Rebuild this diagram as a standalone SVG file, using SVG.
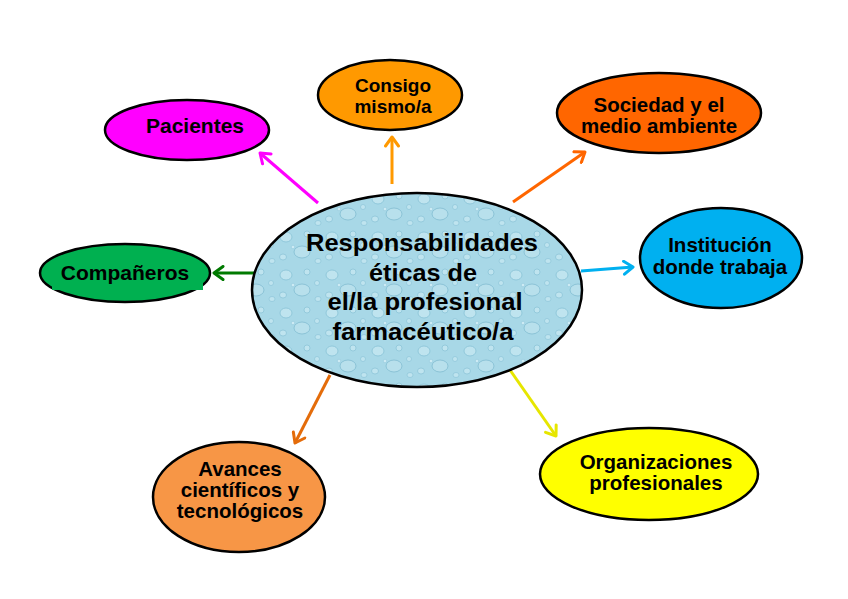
<svg xmlns="http://www.w3.org/2000/svg" width="848" height="599" viewBox="0 0 848 599">
<style>
  .node ellipse { stroke: #000; stroke-width: 2.5; }
  .lbl { font-family: "Liberation Sans", Arial, sans-serif; font-weight: bold; font-size: 20.5px; fill: #000; text-anchor: middle; }
  .big { font-size: 24px; }
  .con line { stroke-width: 3; fill: none; }
</style>
<defs>
  <pattern id="drops" width="46" height="38" patternUnits="userSpaceOnUse">
    <rect width="46" height="38" fill="#A8D8E7"/>
    <ellipse cx="10" cy="9" rx="6" ry="5" fill="#BFE4EF" stroke="#86C1D6" stroke-width="0.8"/>
    <ellipse cx="31" cy="6" rx="3" ry="3" fill="#BFE4EF" stroke="#86C1D6" stroke-width="0.7"/>
    <ellipse cx="26" cy="24" rx="8" ry="6" fill="#B8E0EC" stroke="#80BBD1" stroke-width="0.8"/>
    <ellipse cx="7" cy="29" rx="3.5" ry="3" fill="#BFE4EF" stroke="#86C1D6" stroke-width="0.7"/>
    <ellipse cx="41" cy="17" rx="2.5" ry="2.5" fill="#BFE4EF" stroke="#86C1D6" stroke-width="0.6"/>
    <ellipse cx="42" cy="33" rx="3" ry="2.5" fill="#BFE4EF" stroke="#86C1D6" stroke-width="0.6"/>
    <ellipse cx="17" cy="19" rx="1.8" ry="1.8" fill="#CDEBF4" stroke="#8CC5D9" stroke-width="0.5"/>
  </pattern>
  <marker id="mMag" viewBox="-12 -8 14 16" refX="0" refY="0" markerWidth="14" markerHeight="16" markerUnits="userSpaceOnUse" orient="auto"><path d="M-9,-6.5 L0,0 L-9,6.5" fill="none" stroke="#FF00FF" stroke-width="3" stroke-linecap="round" stroke-linejoin="round"/></marker>
  <marker id="mOrg" viewBox="-12 -8 14 16" refX="0" refY="0" markerWidth="14" markerHeight="16" markerUnits="userSpaceOnUse" orient="auto"><path d="M-9,-6.5 L0,0 L-9,6.5" fill="none" stroke="#FF9900" stroke-width="3" stroke-linecap="round" stroke-linejoin="round"/></marker>
  <marker id="mRed" viewBox="-12 -8 14 16" refX="0" refY="0" markerWidth="14" markerHeight="16" markerUnits="userSpaceOnUse" orient="auto"><path d="M-9,-6.5 L0,0 L-9,6.5" fill="none" stroke="#FF6600" stroke-width="3" stroke-linecap="round" stroke-linejoin="round"/></marker>
  <marker id="mCya" viewBox="-12 -8 14 16" refX="0" refY="0" markerWidth="14" markerHeight="16" markerUnits="userSpaceOnUse" orient="auto"><path d="M-9,-6.5 L0,0 L-9,6.5" fill="none" stroke="#00B0F0" stroke-width="3" stroke-linecap="round" stroke-linejoin="round"/></marker>
  <marker id="mGrn" viewBox="-12 -8 14 16" refX="0" refY="0" markerWidth="14" markerHeight="16" markerUnits="userSpaceOnUse" orient="auto"><path d="M-9,-6.5 L0,0 L-9,6.5" fill="none" stroke="#007A00" stroke-width="3" stroke-linecap="round" stroke-linejoin="round"/></marker>
  <marker id="mDor" viewBox="-12 -8 14 16" refX="0" refY="0" markerWidth="14" markerHeight="16" markerUnits="userSpaceOnUse" orient="auto"><path d="M-9,-6.5 L0,0 L-9,6.5" fill="none" stroke="#E46C0A" stroke-width="3" stroke-linecap="round" stroke-linejoin="round"/></marker>
  <marker id="mYel" viewBox="-12 -8 14 16" refX="0" refY="0" markerWidth="14" markerHeight="16" markerUnits="userSpaceOnUse" orient="auto"><path d="M-9,-6.5 L0,0 L-9,6.5" fill="none" stroke="#E6E600" stroke-width="3" stroke-linecap="round" stroke-linejoin="round"/></marker>
</defs>
<rect width="848" height="599" fill="#FFFFFF"/>

<g id="connectors" class="con">
  <line x1="318" y1="203" x2="260" y2="153" stroke="#FF00FF" marker-end="url(#mMag)"/>
  <line x1="392" y1="184" x2="392" y2="137" stroke="#FF9900" marker-end="url(#mOrg)"/>
  <line x1="513" y1="202" x2="585" y2="152" stroke="#FF6600" marker-end="url(#mRed)"/>
  <line x1="581" y1="271" x2="633" y2="267" stroke="#00B0F0" marker-end="url(#mCya)"/>
  <line x1="254" y1="273" x2="214" y2="273" stroke="#007A00" marker-end="url(#mGrn)"/>
  <line x1="330" y1="375" x2="295" y2="443" stroke="#E46C0A" marker-end="url(#mDor)"/>
  <line x1="510" y1="370" x2="556" y2="436" stroke="#E6E600" marker-end="url(#mYel)"/>
</g>

<g id="center" class="node">
  <ellipse cx="417" cy="290" rx="165" ry="97" fill="url(#drops)"/>
  <text class="lbl big" x="422" y="251" textLength="232" lengthAdjust="spacingAndGlyphs">Responsabilidades</text>
  <text class="lbl big" x="423" y="281" textLength="108" lengthAdjust="spacingAndGlyphs">éticas de</text>
  <text class="lbl big" x="425" y="310" textLength="195" lengthAdjust="spacingAndGlyphs">el/la profesional</text>
  <text class="lbl big" x="423" y="340" textLength="181" lengthAdjust="spacingAndGlyphs">farmacéutico/a</text>
</g>

<g id="pacientes" class="node">
  <ellipse cx="187" cy="130" rx="82" ry="30" fill="#FF00FF"/>
  <text class="lbl" x="195" y="133" style="font-size:21px">Pacientes</text>
</g>

<g id="consigo" class="node">
  <ellipse cx="390" cy="95" rx="72" ry="35" fill="#FF9900"/>
  <text class="lbl" x="393" y="92" style="font-size:19px">Consigo</text>
  <text class="lbl" x="393" y="113" style="font-size:19px">mismo/a</text>
</g>

<g id="sociedad" class="node">
  <ellipse cx="659" cy="113" rx="102" ry="40" fill="#FF6600"/>
  <text class="lbl" x="659" y="112">Sociedad y el</text>
  <text class="lbl" x="659" y="133">medio ambiente</text>
</g>

<g id="institucion" class="node">
  <ellipse cx="721" cy="258" rx="81" ry="50" fill="#00B0F0"/>
  <text class="lbl" x="720" y="252">Institución</text>
  <text class="lbl" x="720" y="274">donde trabaja</text>
</g>

<g id="companeros" class="node">
  <ellipse cx="125" cy="273" rx="85" ry="29" fill="#00B050"/>
  <rect x="52" y="270" width="151" height="20" fill="#00B050"/>
  <text class="lbl" x="125" y="280" style="font-size:21px">Compañeros</text>
</g>

<g id="avances" class="node">
  <ellipse cx="239" cy="497" rx="86" ry="55" fill="#F79646"/>
  <text class="lbl" x="240" y="476">Avances</text>
  <text class="lbl" x="240" y="497">científicos y</text>
  <text class="lbl" x="240" y="518">tecnológicos</text>
</g>

<g id="organizaciones" class="node">
  <ellipse cx="649" cy="474" rx="109" ry="46" fill="#FFFF00"/>
  <text class="lbl" x="656" y="469">Organizaciones</text>
  <text class="lbl" x="656" y="490">profesionales</text>
</g>
</svg>
